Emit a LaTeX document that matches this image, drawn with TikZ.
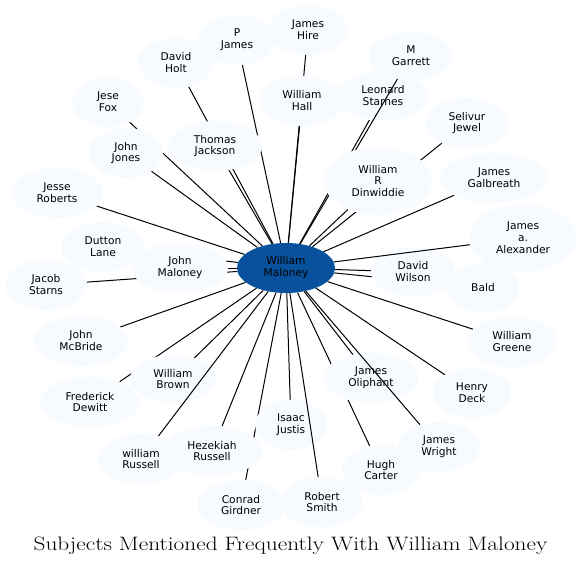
\documentclass[tikz,border=0pt]{standalone}
\usepackage{fontspec}
\setsansfont{DejaVu Sans}
\usetikzlibrary{shapes.geometric}
\definecolor{nodefill}{HTML}{F7FBFF}
\definecolor{hubfill}{HTML}{08519C}
\pgfdeclarelayer{bg}\pgfdeclarelayer{over}\pgfdeclarelayer{fg}
\pgfsetlayers{bg,main,over,fg}
\begin{document}
\begin{tikzpicture}[x=1bp,y=-1bp,
  person/.style={ellipse, fill=nodefill, inner sep=0pt, align=center,
    font=\sffamily\fontsize{10.7}{12}\selectfont},
  link/.style={line width=1bp, black}]
\useasboundingbox (0,0) rectangle (583,565);
% hub
\node[person, fill=hubfill, minimum width=98bp, minimum height=50bp] (wm) at (286,268) {William\\Maloney};
% others
\node[person, minimum width=78bp, minimum height=50bp] (pj) at (237,40) {P\\James};
\node[person, minimum width=76bp, minimum height=50bp] (dh) at (176,63) {David\\Holt};
\node[person, minimum width=72bp, minimum height=50bp] (jf) at (108,102) {Jese\\Fox};
\node[person, minimum width=74bp, minimum height=50bp] (jj) at (126,153) {John\\Jones};
\node[person, minimum width=94bp, minimum height=50bp] (tj) at (215,146) {Thomas\\Jackson};
\node[person, minimum width=92bp, minimum height=50bp] (jr) at (57,193) {Jesse\\Roberts};
\node[person, minimum width=80bp, minimum height=50bp] (jh) at (308,30) {James\\Hire};
\node[person, minimum width=84bp, minimum height=48bp] (mg) at (411,56) {M\\Garrett};
\node[person, minimum width=92bp, minimum height=50bp] (ls) at (383,96) {Leonard\\Starnes};
\node[person, minimum width=86bp, minimum height=50bp] (wh) at (302,101) {William\\Hall};
\node[person, minimum width=84bp, minimum height=50bp] (sj) at (467,123) {Selivur\\Jewel};
\begin{pgfonlayer}{fg}
\node[person, minimum width=108bp, minimum height=68bp] (wd) at (378,181) {William\\R\\Dinwiddie};
\end{pgfonlayer}
\node[person, minimum width=108bp, minimum height=50bp] (jg) at (494,178) {James\\Galbreath};
\node[person, minimum width=108bp, minimum height=68bp] (ja) at (523,238) {James\\a.\\Alexander};
\node[person, minimum width=84bp, minimum height=50bp] (dw) at (413,272) {David\\Wilson};
\node[person, minimum width=72bp, minimum height=50bp] (bd) at (483,288) {Bald};
\node[person, minimum width=90bp, minimum height=50bp] (wg) at (512,342) {William\\Greene};
\node[person, minimum width=84bp, minimum height=50bp] (dl) at (103,247) {Dutton\\Lane};
\node[person, minimum width=96bp, minimum height=50bp] (jm) at (180,268) {John\\Maloney};
\node[person, minimum width=82bp, minimum height=50bp] (js) at (46,285) {Jacob\\Starns};
\node[person, minimum width=94bp, minimum height=50bp] (mb) at (81,341) {John\\McBride};
\node[person, minimum width=86bp, minimum height=48bp] (wb) at (173,379) {William\\Brown};
\node[person, minimum width=100bp, minimum height=50bp] (fd) at (90,402) {Frederick\\Dewitt};
\node[person, minimum width=86bp, minimum height=50bp] (wr) at (141,459) {william\\Russell};
\node[person, minimum width=100bp, minimum height=50bp] (hr) at (212,451) {Hezekiah\\Russell};
\node[person, minimum width=88bp, minimum height=50bp] (cg) at (241,505) {Conrad\\Girdner};
\node[person, minimum width=72bp, minimum height=50bp] (ij) at (291,425) {Isaac\\Justis};
\node[person, minimum width=96bp, minimum height=50bp] (jo) at (371,378) {James\\Oliphant};
\node[person, minimum width=78bp, minimum height=50bp] (hd) at (472,393) {Henry\\Deck};
\node[person, minimum width=82bp, minimum height=50bp] (jw) at (439,447) {James\\Wright};
\node[person, minimum width=78bp, minimum height=50bp] (hc) at (381,470) {Hugh\\Carter};
\node[person, minimum width=82bp, minimum height=50bp] (rs) at (322,502) {Robert\\Smith};
% edges under the nodes
\begin{pgfonlayer}{bg}
\foreach \n in {pj,dh,jf,jj,tj,jr,jh,ls,wh,sj,wd,jg,dw,bd,wg,dl,jm,js,mb,wb,fd,hr,cg,ij,jo,hd,hc}
  \draw[link] (wm) -- (\n);
\end{pgfonlayer}
% edges drawn over some nodes
\begin{pgfonlayer}{over}
\foreach \n in {mg,ja,jw,rs,wr}
  \draw[link] (wm) -- (\n);
\end{pgfonlayer}
\node[anchor=base, inner sep=0pt, font=\fontsize{19.5}{20}\selectfont] (title) at (290.5,550) {\scalebox{1.2}[1]{Subjects Mentioned Frequently With William Maloney}};
\end{tikzpicture}
\end{document}
